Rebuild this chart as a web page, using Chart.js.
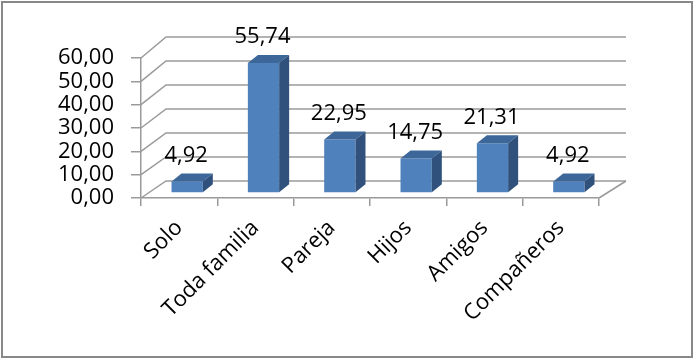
<!DOCTYPE html>
<html>
<head>
<meta charset="utf-8">
<script src="https://cdn.jsdelivr.net/npm/chart.js@4/dist/chart.umd.min.js"></script>
<style>
  body { margin: 0; background: #fff; }
  canvas { display: block; }
</style>
</head>
<body>
<canvas id="acompananteChart" width="693" height="358"></canvas>
<script>
const categories = ["Solo", "Toda familia", "Pareja", "Hijos", "Amigos", "Compañeros"];
const percentages = [4.92, 55.74, 22.95, 14.75, 21.31, 4.92];
const yTicks = [0, 10, 20, 30, 40, 50, 60];

const gridColor = "#9a9a9a";
const textFont = { family: "'Open Sans', sans-serif", size: 22 };
const fmt = (v) => Number(v).toFixed(2).replace(".", ",");

// fake 3d: walls behind the bars, then the bar top/side faces and value labels
const bars3d = {
  id: "bars3d",
  beforeDatasetsDraw(chart) {
    const { ctx, chartArea: a, scales: { y } } = chart;
    const y0 = y.getPixelForValue(0);
    const back = (x, fy) => [
      x + 25 + 2 * (x - a.left) / (a.right - a.left),
      y0 - 17 - (y0 - fy) * 144 / 140,
    ];
    ctx.save();
    ctx.strokeStyle = gridColor;
    ctx.lineWidth = 1.5;
    yTicks.forEach((v) => {
      const fy = y.getPixelForValue(v);
      const [bx, by] = back(a.left, fy);
      const [rx] = back(a.right, fy);
      ctx.beginPath();
      ctx.moveTo(a.left, fy);
      ctx.lineTo(bx, by);
      ctx.lineTo(rx, by);
      ctx.stroke();
    });
    const [fx, fy] = back(a.right, y0);
    ctx.beginPath();
    ctx.moveTo(a.right, y0);
    ctx.lineTo(fx, fy);
    ctx.stroke();
    ctx.restore();

    // bars stand a little behind the front plane
    ctx.save();
    ctx.translate(8, -5);
  },
  afterDatasetsDraw(chart) {
    const { ctx } = chart;
    const dx = 10, dy = -8;
    chart.getDatasetMeta(0).data.forEach((el, i) => {
      const l = el.x - el.width / 2, r = el.x + el.width / 2;
      ctx.fillStyle = "#3d6799";
      ctx.beginPath();
      ctx.moveTo(l, el.y);
      ctx.lineTo(l + dx, el.y + dy);
      ctx.lineTo(r + dx, el.y + dy);
      ctx.lineTo(r, el.y);
      ctx.closePath();
      ctx.fill();
      ctx.fillStyle = "#30517b";
      ctx.beginPath();
      ctx.moveTo(r, el.y);
      ctx.lineTo(r + dx, el.y + dy);
      ctx.lineTo(r + dx, el.base + dy);
      ctx.lineTo(r, el.base);
      ctx.closePath();
      ctx.fill();

      ctx.fillStyle = "#000";
      ctx.font = `${textFont.size}px ${textFont.family}`;
      ctx.textAlign = "center";
      ctx.textBaseline = "alphabetic";
      ctx.fillText(fmt(percentages[i]), el.x - 1, el.y - 19.5);
    });
    ctx.restore();
  },
  afterDraw(chart) {
    const { ctx } = chart;
    ctx.save();
    ctx.strokeStyle = "#888";
    ctx.lineWidth = 2;
    ctx.strokeRect(2, 2, 690, 355);
    ctx.restore();
  },
};

new Chart(document.getElementById("acompananteChart"), {
  type: "bar",
  data: {
    labels: categories,
    datasets: [
      {
        data: percentages,
        backgroundColor: "#4f81bd",
        borderWidth: 0,
        barPercentage: 0.41,
        categoryPercentage: 1,
        clip: false,
      },
    ],
  },
  options: {
    responsive: false,
    animation: false,
    layout: { padding: { left: 0, right: 94, top: 58, bottom: 0 } },
    plugins: { legend: { display: false }, tooltip: { enabled: false } },
    scales: {
      y: {
        min: 0,
        max: 60,
        afterBuildTicks: (s) => { s.ticks = yTicks.map((v) => ({ value: v })); },
        afterFit: (s) => { s.width = 141; },
        ticks: { autoSkip: false, callback: (v) => fmt(v), font: textFont, color: "#000", padding: 17 },
        grid: { drawOnChartArea: false, tickLength: 10, color: gridColor, lineWidth: 1.5 },
        border: { color: gridColor, width: 1.5 },
      },
      x: {
        afterFit: (s) => { s.height = 160; },
        ticks: { autoSkip: false, minRotation: 45, maxRotation: 45, font: textFont, color: "#000", padding: 9 },
        grid: { offset: true, drawOnChartArea: false, tickLength: 8, color: gridColor, lineWidth: 1.5 },
        border: { color: gridColor, width: 1.5 },
      },
    },
  },
  plugins: [bars3d],
});
</script>
</body>
</html>
